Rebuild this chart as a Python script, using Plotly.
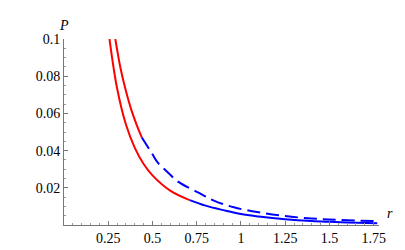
import numpy as np
import plotly.graph_objects as go

# Solid curve (red up to r_split_solid, then blue)
r_solid = [0.257, 0.30, 0.35, 0.40, 0.45, 0.50, 0.60, 0.71, 0.80, 0.90, 1.00, 1.10, 1.25, 1.40, 1.50, 1.60, 1.77]
p_solid = [0.100, 0.0735, 0.054, 0.0415, 0.0328, 0.0267, 0.0185, 0.0134, 0.0104, 0.0080, 0.0059, 0.0046, 0.0031, 0.0021, 0.0017, 0.0014, 0.0010]
r_split_solid = 0.71

# Dashed curve (solid red up to r_split_dash, then blue dashed)
r_dash = [0.29, 0.32, 0.35, 0.38, 0.41, 0.44, 0.50, 0.53, 0.59, 0.64, 0.76, 0.85, 0.96, 1.10, 1.25, 1.40, 1.55, 1.78]
p_dash = [0.100, 0.084, 0.072, 0.062, 0.054, 0.047, 0.038, 0.0335, 0.028, 0.0236, 0.0174, 0.0130, 0.0095, 0.0068, 0.0048, 0.0035, 0.0028, 0.0020]
r_split_dash = 0.44

x_tickvals = [0.25, 0.5, 0.75, 1, 1.25, 1.5, 1.75]
x_ticktext = ["0.25", "0.5", "0.75", "1", "1.25", "1.5", "1.75"]
y_tickvals = [0.02, 0.04, 0.06, 0.08, 0.1]
y_ticktext = ["0.02", "0.04", "0.06", "0.08", "0.1"]

RED = "#ff0000"
BLUE = "#0000ff"


def split(rs, ps, rsplit):
    a = [(r, p) for r, p in zip(rs, ps) if r <= rsplit]
    b = [(r, p) for r, p in zip(rs, ps) if r >= rsplit]
    return list(zip(*a)), list(zip(*b))


fig = go.Figure()
(sa, sb) = split(r_solid, p_solid, r_split_solid)
(da, db) = split(r_dash, p_dash, r_split_dash)

fig.add_trace(go.Scatter(x=sa[0], y=sa[1], mode="lines", line=dict(color=RED, width=2, shape="spline")))
fig.add_trace(go.Scatter(x=sb[0], y=sb[1], mode="lines", line=dict(color=BLUE, width=2, shape="spline")))
fig.add_trace(go.Scatter(x=da[0], y=da[1], mode="lines", line=dict(color=RED, width=2, shape="spline")))
fig.add_trace(go.Scatter(x=db[0], y=db[1], mode="lines", line=dict(color=BLUE, width=2, shape="spline", dash="13px,6px")))

font = dict(family="Times New Roman, Liberation Serif, serif", size=14, color="#000000")

fig.update_layout(
    width=405, height=250,
    margin=dict(l=56, r=34, t=31, b=26),
    paper_bgcolor="white", plot_bgcolor="white",
    showlegend=False,
    font=font,
    xaxis=dict(
        range=[0, 1.78], showgrid=False, zeroline=False,
        showline=True, linecolor="#777777", linewidth=1,
        ticks="inside", ticklen=4, tickcolor="#777777", tickwidth=1,
        tickvals=x_tickvals, ticktext=x_ticktext, tickfont=font,
        minor=dict(ticks="inside", ticklen=2, tickcolor="#999999",
                   tickvals=list(np.round(np.arange(0.05, 1.78, 0.05), 3))),
    ),
    yaxis=dict(
        range=[0, 0.1], showgrid=False, zeroline=False,
        showline=True, linecolor="#777777", linewidth=1,
        ticks="inside", ticklen=4, tickcolor="#777777", tickwidth=1,
        tickvals=y_tickvals, ticktext=y_ticktext, tickfont=font,
        minor=dict(ticks="inside", ticklen=2, tickcolor="#999999",
                   tickvals=list(np.round(np.arange(0.005, 0.1001, 0.005), 4))),
    ),
    annotations=[
        dict(text="<i>P</i>", xref="paper", yref="paper", x=0, y=1, xanchor="center",
             yanchor="bottom", yshift=4, showarrow=False, font=font),
        dict(text="<i>r</i>", xref="paper", yref="paper", x=1, y=0, xanchor="left",
             yanchor="bottom", xshift=6, yshift=2, showarrow=False, font=font),
    ],
)

fig.write_html("out.html")
